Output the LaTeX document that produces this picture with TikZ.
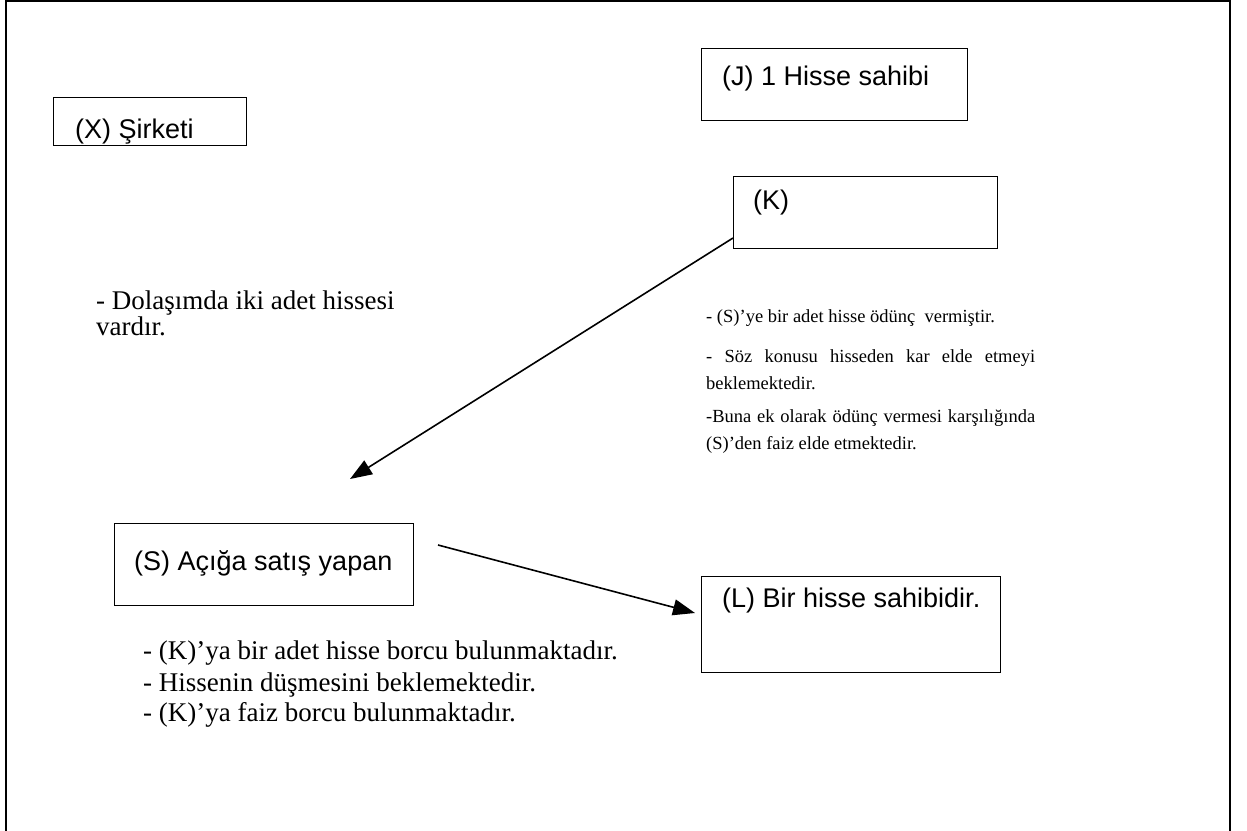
\documentclass[tikz,border=0pt]{standalone}
\usepackage{fontspec}
\setmainfont{Liberation Serif}
\newfontfamily\arialf{Liberation Sans}
\usetikzlibrary{arrows.meta}
\begin{document}
\begin{tikzpicture}[x=1pt,y=-1pt,
  box/.style={draw, line width=1.4pt, anchor=north west, inner sep=0pt},
  boxtxt/.style={anchor=base west, inner sep=0pt, font=\arialf\fontsize{27}{31}\selectfont},
  body/.style={anchor=base west, inner sep=0pt, font=\fontsize{27}{31}\selectfont},
  kbody/.style={anchor=base west, inner sep=0pt, font=\fontsize{18.5}{22}\selectfont},
  arr/.style={line width=1.6pt, -{Triangle[length=22pt,width=16pt]}}]
\useasboundingbox (0,0) rectangle (1247,830);
\fill[white] (0,0) rectangle (1247,830);
% outer frame
\draw[line width=2.2pt] (6,850) -- (6,1) -- (1230,1) -- (1230,850);
% boxes
\node[box, minimum width=193pt, minimum height=48pt] (X) at (53,97) {};
\node[box, minimum width=266pt, minimum height=72pt] (J) at (701,48) {};
\node[box, minimum width=264pt, minimum height=72pt] (K) at (733,176) {};
\node[box, minimum width=299pt, minimum height=82pt] (S) at (114,523) {};
\node[box, minimum width=299pt, minimum height=96pt] (L) at (701,576) {};
% box texts
\node[boxtxt] (Xt) at (75,138) {(X) Şirketi};
\node[boxtxt] (Jt) at (722,85) {(J) 1 Hisse sahibi};
\node[boxtxt] (Kt) at (753,209) {(K)};
\node[boxtxt] (St) at (134,570) {(S) Açığa satış yapan};
\node[boxtxt] (Lt) at (722,607) {(L) Bir hisse sahibidir.};
% body texts
\node[body] (d1) at (96,309) {- Dolaşımda iki adet hissesi};
\node[body] (d2) at (96,335) {vardır.};
\node[kbody] (k1) at (706,322) {- (S)’ye bir adet hisse ödünç\ \ vermiştir.};
\node[kbody] (k2) at (706,362) {\makebox[329pt][s]{- Söz konusu hisseden kar elde etmeyi}};
\node[kbody] (k3) at (706,389) {beklemektedir.};
\node[kbody] (k4) at (706,422) {\makebox[329pt][s]{-Buna ek olarak ödünç vermesi karşılığında}};
\node[kbody] (k5) at (706,449) {(S)’den faiz elde etmektedir.};
\node[body] (s1) at (143,659) {- (K)’ya bir adet hisse borcu bulunmaktadır.};
\node[body] (s2) at (143,691) {- Hissenin düşmesini beklemektedir.};
\node[body] (s3) at (143,721) {- (K)’ya faiz borcu bulunmaktadır.};
% arrows
\coordinate (a1s) at (733,238);
\coordinate (a1e) at (350,479);
\coordinate (a2s) at (438,545);
\coordinate (a2e) at (695,613);
\draw[arr] (a1s) -- (a1e);
\draw[arr] (a2s) -- (a2e);
\end{tikzpicture}
\end{document}
